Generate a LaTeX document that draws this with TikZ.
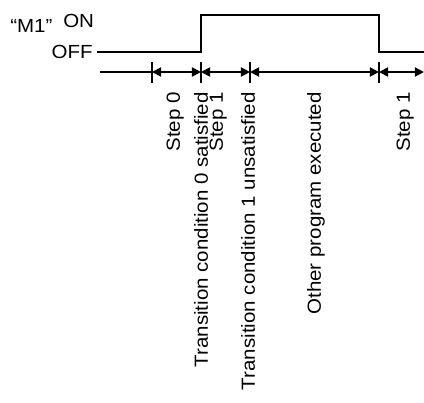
\documentclass[tikz,border=0pt]{standalone}
\usepackage{fontspec}
\setmainfont[FakeStretch=1.08]{Liberation Sans}
\usetikzlibrary{arrows.meta}

\begin{document}
\begin{tikzpicture}[x=0.025cm,y=-0.025cm,
  lbl/.style={inner sep=0pt,font=\fontsize{13.5}{16}\selectfont},
  steplbl/.style={lbl,rotate=90,anchor=base east},
  wave/.style={line width=1.3pt},
  span/.style={{Triangle[length=6.5pt,width=6.5pt]}-{Triangle[length=6.5pt,width=6.5pt]},line width=1.3pt}]

\useasboundingbox (0,0) rectangle (424,403);

\def\yon{15}   % ON level
\def\yoff{52}  % OFF level
\def\yt{72}    % time line

% Signal name and levels
\node[lbl,anchor=base west] (m1)  at (10,32) {“M1”};
\node[lbl,anchor=base west] (on)  at (63,27) {ON};
\node[lbl,anchor=base east] (off) at (93,58) {OFF};

% ---- M1 signal ----
\coordinate (s0) at (97,\yoff);
\coordinate (rise) at (201,\yoff);
\coordinate (fall) at (379,\yoff);
\coordinate (s1) at (424,\yoff);
\draw[wave] (s0) -- (rise) -- (rise |- 0,\yon) -- (fall |- 0,\yon) -- (fall) -- (s1);

% ---- Time line ----
\coordinate (t0) at (100,\yt);
\coordinate (t1) at (152,\yt);
\coordinate (t2) at (201,\yt);
\coordinate (t3) at (250,\yt);
\coordinate (t4) at (379,\yt);
\coordinate (t5) at (424,\yt);
\draw[wave] (t0) -- (t1);
\foreach \c in {t1,t2,t3,t4}{
    \draw[wave] (\c) ++(0,-10) -- ++(0,21);
}
\draw[span] (t1) -- (t2);
\draw[span] (t2) -- (t3);
\draw[span] (t3) -- (t4);
\draw[span] (t4) -- (t5);

% ---- Labels ----
\node[steplbl] (st0)  at (180,92) {Step 0};
\node[steplbl] (tc0)  at (208,92) {Transition condition 0 satisfied};
\node[steplbl] (st1)  at (223,92) {Step 1};
\node[steplbl] (tc1)  at (255,92) {Transition condition 1 unsatisfied};
\node[steplbl] (oth)  at (321,92) {Other program executed};
\node[steplbl] (st1b) at (410,92) {Step 1};

\end{tikzpicture}
\end{document}
